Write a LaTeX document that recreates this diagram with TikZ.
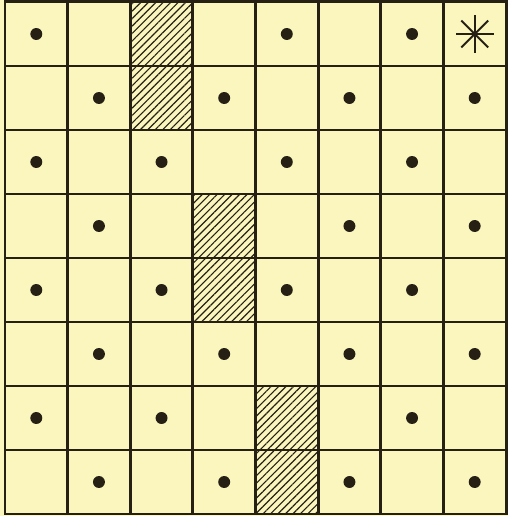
\documentclass[tikz,border=0pt]{standalone}
\usetikzlibrary{patterns.meta}
\definecolor{paper}{RGB}{250,246,190}
\definecolor{ink}{RGB}{38,32,20}

\begin{document}
\begin{tikzpicture}[
    x=0.02cm, y=-0.02cm,
    gridline/.style={draw=ink, line width=1.7pt, line cap=rect},
    hatched/.style={pattern={Lines[angle=45, distance=3pt, line width=0.65pt]}, pattern color=ink},
    pawn/.style={fill=ink},
    star/.style={draw=ink, line width=1.1pt},
]
\fill[paper] (0,0) rectangle (508,516);

% hatched cells, column/row
\foreach \c/\r in {3/1, 3/2, 4/4, 4/5, 5/7, 5/8}
  \fill[hatched] ({5+62.625*(\c-1)},{2+64*(\r-1)}) rectangle ++(62.625,64);

% dots, row/columns
\foreach \r/\cols in {1/{1,5,7}, 2/{2,4,6,8}, 3/{1,3,5,7}, 4/{2,6,8},
                      5/{1,3,5,7}, 6/{2,4,6,8}, 7/{1,3,7}, 8/{2,4,6,8}}
  \foreach \c in \cols
    \fill[pawn] ({5+62.625*(\c-0.5)},{2+64*(\r-0.5)}) circle (3.4pt);

% asterisk in the corner cell
\coordinate (corner) at ({5+62.625*7.5},{2+64*0.5});
\foreach \a in {0,45,...,315}
  \draw[star] (corner) -- ++(\a:19);

% grid
\foreach \i in {0,...,8} {
  \draw[gridline] ({5+62.625*\i},2) -- ({5+62.625*\i},514);
  \draw[gridline] (5,{2+64*\i}) -- (506,{2+64*\i});
}
\end{tikzpicture}
\end{document}
